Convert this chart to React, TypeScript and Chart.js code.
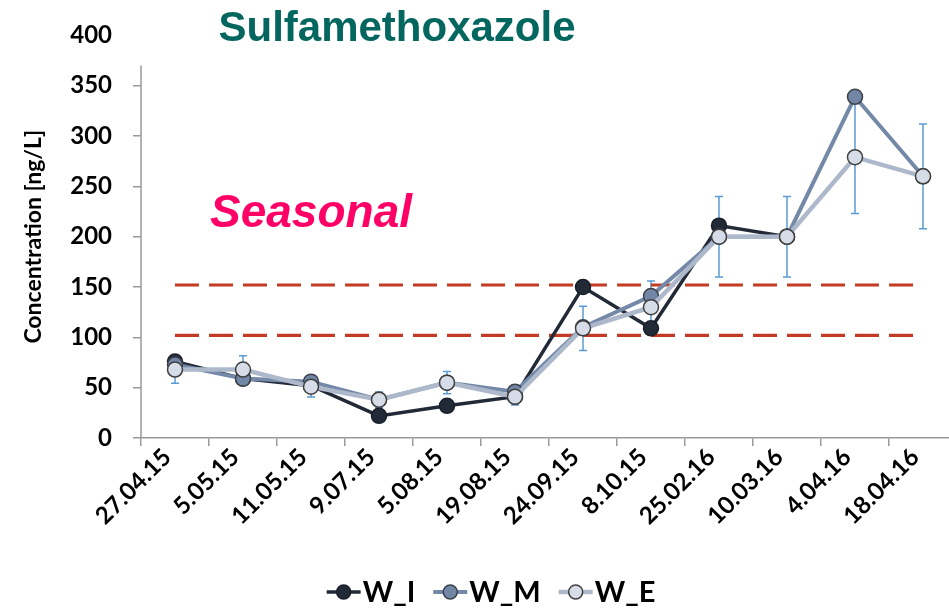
import React, { useEffect, useRef } from "react";
import { Chart, registerables } from "chart.js";

Chart.register(...registerables);

const categories = [
  "27.04.15", "5.05.15", "11.05.15", "9.07.15", "5.08.15", "19.08.15",
  "24.09.15", "8.10.15", "25.02.16", "10.03.16", "4.04.16", "18.04.16",
];
const seriesNames = ["W_I", "W_M", "W_E"];
const wI = [76, 59, 52, 22, 32, 41, 150, 109, 211, 200, null, null];
const wM = [73, 59, 56, 38, 55, 46, 110, 141, 200, 200, 339, 260];
const wE = [68, 68, 51, 38, 55, 41, 109, 130, 200, 200, 279, 260];
const wEError = [13.6, 13.6, 10.2, 7.6, 11, 8.2, 22, 26, 40, 40, 56, 52];
const upperLimit = [152, 152, 152, 152, 152, 152, 152, 152, 152, 152, 152, 152];
const lowerLimit = [102, 102, 102, 102, 102, 102, 102, 102, 102, 102, 102, 102];
const yMin = 0;
const yMax = 400;
const yStep = 50;
const yAxisLineTop = 370;

const lineColors = ["#222a38", "#7489a8", "#adb9cb"];
const fillColors = ["#222a38", "#7287a6", "#d6dde8"];
const borderColors = ["#1a1f2a", "#3c414a", "#404040"];
const lineWidths = [3.5, 4, 4.5];

const TICK_FONT = "Lato";

const decorPlugin = {
  id: "decor",
  beforeDatasetsDraw(chart: any) {
    const { ctx, scales } = chart;
    const x = scales.x;
    const y = scales.y;
    ctx.save();
    ctx.strokeStyle = "#5b9bd5";
    ctx.lineWidth = 1.5;
    wE.forEach((v, i) => {
      const px = x.getPixelForValue(i);
      const top = y.getPixelForValue(v + wEError[i]);
      const bot = y.getPixelForValue(v - wEError[i]);
      ctx.beginPath();
      ctx.moveTo(px, top);
      ctx.lineTo(px, bot);
      ctx.moveTo(px - 4, top);
      ctx.lineTo(px + 4, top);
      ctx.moveTo(px - 4, bot);
      ctx.lineTo(px + 4, bot);
      ctx.stroke();
    });
    ctx.restore();
  },
  afterDraw(chart: any) {
    const { ctx, scales } = chart;
    const x = scales.x;
    const y = scales.y;
    ctx.save();
    // y axis line
    ctx.strokeStyle = "#999999";
    ctx.lineWidth = 1.5;
    ctx.beginPath();
    ctx.moveTo(x.left, y.getPixelForValue(yMin));
    ctx.lineTo(x.left, y.getPixelForValue(yAxisLineTop));
    ctx.stroke();

    // title
    ctx.fillStyle = "#03665f";
    ctx.font = 'bold 42px "Liberation Sans", Arial, sans-serif';
    ctx.textAlign = "center";
    ctx.textBaseline = "alphabetic";
    ctx.fillText("Sulfamethoxazole", 397, 41);

    // Seasonal annotation
    ctx.fillStyle = "#ff0066";
    ctx.font = 'italic bold 46px "Liberation Sans", Arial, sans-serif';
    ctx.textAlign = "left";
    ctx.fillText("Seasonal", 210, 227);

    // legend
    ctx.font = `bold 29px ${TICK_FONT}`;
    const lineLen = 34;
    const gapText = 2;
    const gapItem = 18;
    const widths = seriesNames.map((n) => lineLen + gapText + ctx.measureText(n).width);
    const total = widths.reduce((a, b) => a + b, 0) + gapItem * (seriesNames.length - 1);
    let cx = 491 - total / 2;
    const ly = 592;
    seriesNames.forEach((n, i) => {
      ctx.strokeStyle = lineColors[i];
      ctx.lineWidth = lineWidths[i];
      ctx.beginPath();
      ctx.moveTo(cx, ly);
      ctx.lineTo(cx + lineLen, ly);
      ctx.stroke();
      ctx.beginPath();
      ctx.arc(cx + lineLen / 2, ly, 7, 0, Math.PI * 2);
      ctx.fillStyle = fillColors[i];
      ctx.fill();
      ctx.strokeStyle = borderColors[i];
      ctx.lineWidth = 1.5;
      ctx.stroke();
      ctx.fillStyle = "#000000";
      ctx.textAlign = "left";
      ctx.textBaseline = "middle";
      ctx.fillText(n, cx + lineLen + gapText, ly + 1);
      cx += widths[i] + gapItem;
    });
    ctx.restore();
  },
};

export default function App() {
  const canvasRef = useRef<HTMLCanvasElement | null>(null);

  useEffect(() => {
    if (!canvasRef.current) return;
    const pointDs = (label: string, data: (number | null)[], i: number, order: number) => ({
      label,
      data,
      borderColor: lineColors[i],
      backgroundColor: fillColors[i],
      borderWidth: lineWidths[i],
      pointRadius: 7.5,
      pointBackgroundColor: fillColors[i],
      pointBorderColor: borderColors[i],
      pointBorderWidth: 1.5,
      tension: 0,
      spanGaps: false,
      order,
    });
    const limitDs = (data: number[]) => ({
      label: "",
      data,
      borderColor: "#c33b22",
      borderWidth: 3.2,
      borderDash: [24, 10],
      pointRadius: 0,
      tension: 0,
      order: 10,
    });
    const chart = new Chart(canvasRef.current, {
      type: "line",
      data: {
        labels: categories,
        datasets: [
          limitDs(upperLimit),
          limitDs(lowerLimit),
          pointDs(seriesNames[0], wI, 0, 3),
          pointDs(seriesNames[1], wM, 1, 2),
          pointDs(seriesNames[2], wE, 2, 1),
        ] as any,
      },
      options: {
        animation: false,
        responsive: true,
        maintainAspectRatio: false,
        layout: { padding: { top: 33.4, left: 0, right: 9, bottom: 0 } },
        plugins: {
          legend: { display: false },
          tooltip: { enabled: false },
          title: { display: false },
        },
        scales: {
          x: {
            type: "category",
            offset: true,
            grid: {
              offset: true,
              drawOnChartArea: false,
              drawTicks: true,
              tickLength: 8,
              color: "#999999",
              lineWidth: 1.5,
            },
            border: { display: true, color: "#999999", width: 1.5 },
            ticks: {
              autoSkip: false,
              maxRotation: 45,
              minRotation: 45,
              padding: -3,
              labelOffset: -8,
              color: "#000000",
              font: { family: TICK_FONT, weight: "bold", size: 24 },
            },
            afterFit: (scale: any) => {
              scale.height = 171;
            },
          },
          y: {
            min: yMin,
            max: yMax,
            ticks: {
              stepSize: yStep,
              padding: 21,
              color: "#000000",
              font: { family: TICK_FONT, weight: "bold", size: 24 },
            },
            grid: {
              drawOnChartArea: false,
              drawTicks: true,
              tickLength: 8,
              lineWidth: 1.5,
              color: (c: any) => (c.tick && c.tick.value === yMax ? "rgba(0,0,0,0)" : "#999999"),
            },
            border: { display: false },
            title: {
              display: true,
              text: "Concentration [ng/L]",
              color: "#000000",
              font: { family: TICK_FONT, weight: "bold", size: 23 },
              padding: { top: 20, bottom: 0 },
            },
            afterFit: (scale: any) => {
              scale.width = 141;
            },
          },
        },
      } as any,
      plugins: [decorPlugin],
    });
    return () => chart.destroy();
  }, []);

  return (
    <div style={{ position: "fixed", left: 0, top: 0, width: 949, height: 609, overflow: "hidden", background: "#ffffff" }}>
      <div style={{ position: "relative", width: 966, height: 609 }}>
        <canvas ref={canvasRef} />
      </div>
    </div>
  );
}
